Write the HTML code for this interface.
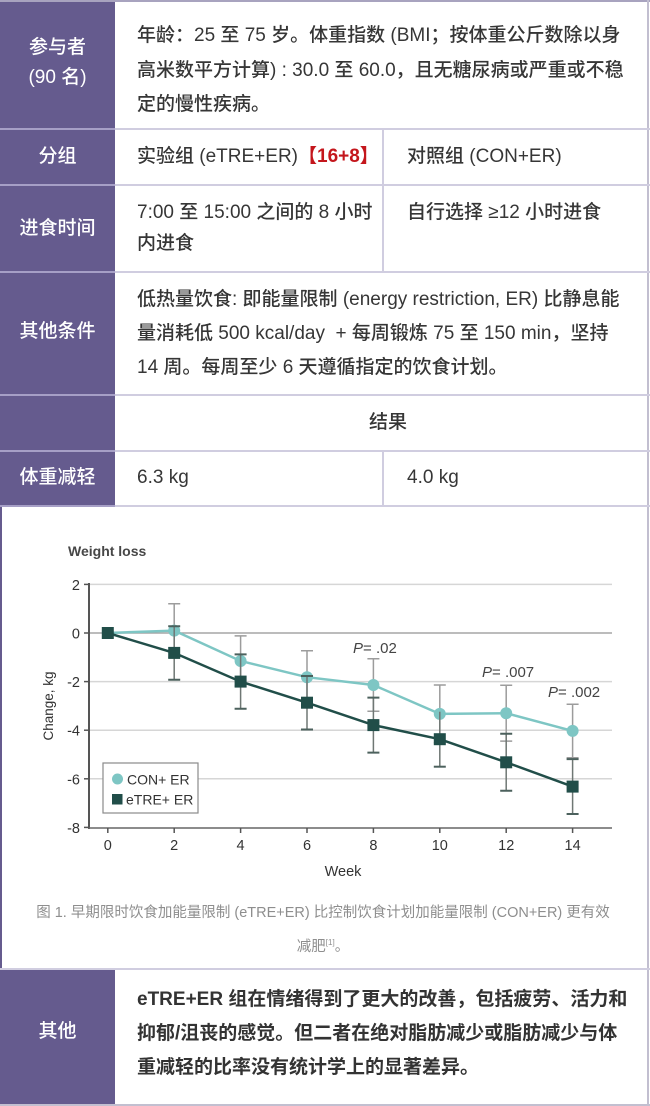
<!DOCTYPE html>
<html><head><meta charset="utf-8">
<style>
*{margin:0;padding:0;box-sizing:border-box}
html,body{width:650px;height:1106px;background:#fff;overflow:hidden}
body{position:relative;font-family:"Liberation Sans","Noto Sans CJK SC",sans-serif;color:#363636}
.p{position:absolute;background:#655b8e}
.hl{position:absolute;left:0;width:650px;height:2px;background:#d0cde0}
.hlp{position:absolute;left:0;width:115px;height:2px;background:#a69fc6}
.vl{position:absolute;width:2px;background:#d0cde0}
.t{position:absolute;font-size:19px;line-height:34px;white-space:nowrap;font-weight:500}
.lab{position:absolute;left:0;width:115px;text-align:center;color:#fff;font-size:19px;line-height:30px;font-weight:500;white-space:nowrap}
.red{color:#c4161c;font-weight:bold}
.cap{position:absolute;left:0;width:650px;text-align:center;font-size:14.5px;line-height:29px;color:#8e8e8e;white-space:nowrap}
</style></head><body>

<!-- purple columns -->
<div class="p" style="left:0;top:0;width:115px;height:507px"></div>
<div class="p" style="left:0;top:507px;width:2px;height:463px"></div>
<div class="p" style="left:0;top:970px;width:115px;height:136px"></div>

<!-- borders -->
<div style="position:absolute;left:0;top:0;width:650px;height:2px;background:#a8a3bf"></div>
<div style="position:absolute;left:647px;top:0;width:2px;height:1106px;background:#c2bfd0"></div>
<div style="position:absolute;left:0;top:1104px;width:650px;height:2px;background:#c2bfd0"></div>

<div class="hl" style="top:128px"></div>
<div class="hl" style="top:184px"></div>
<div class="hl" style="top:271px"></div>
<div class="hl" style="top:394px"></div>
<div class="hl" style="top:450px"></div>
<div class="hl" style="top:505px"></div>
<div class="hl" style="top:968px"></div>
<div class="hlp" style="top:128px"></div>
<div class="hlp" style="top:184px"></div>
<div class="hlp" style="top:271px"></div>
<div class="hlp" style="top:394px"></div>
<div class="hlp" style="top:450px"></div>
<div class="hlp" style="top:505px"></div>

<div class="vl" style="left:382px;top:129px;height:143px"></div>
<div class="vl" style="left:382px;top:451px;height:55px"></div>

<!-- row 1 -->
<div class="lab" style="top:33px">参与者<br>(90 名)</div>
<div class="t" style="left:137px;top:19px;line-height:34.5px">年龄：25 至 75 岁。体重指数 (BMI；按体重公斤数除以身<br>高米数平方计算) : 30.0 至 60.0，且无糖尿病或严重或不稳<br>定的慢性疾病。</div>

<!-- row 2 -->
<div class="lab" style="top:142px">分组</div>
<div class="t" style="left:137px;top:140px">实验组 (eTRE+ER)<span class="red">【16+8】</span></div>
<div class="t" style="left:407px;top:140px">对照组 (CON+ER)</div>

<!-- row 3 -->
<div class="lab" style="top:214px">进食时间</div>
<div class="t" style="left:137px;top:196.5px;line-height:31px">7:00 至 15:00 之间的 8 小时<br>内进食</div>
<div class="t" style="left:407px;top:196.5px;line-height:31px">自行选择 ≥12 小时进食</div>

<!-- row 4 -->
<div class="lab" style="top:317px">其他条件</div>
<div class="t" style="left:137px;top:283px">低热量饮食: 即能量限制 (energy restriction, ER) 比静息能<br>量消耗低 500 kcal/day&nbsp; + 每周锻炼 75 至 150 min，坚持<br>14 周。每周至少 6 天遵循指定的饮食计划。</div>

<!-- row 5 -->
<div class="t" style="left:369px;top:406px">结果</div>

<!-- row 6 -->
<div class="lab" style="top:463px">体重减轻</div>
<div class="t" style="left:137px;top:461px">6.3 kg</div>
<div class="t" style="left:407px;top:461px">4.0 kg</div>

<!-- caption -->
<div class="cap" style="top:898.5px;left:-2px">图 1. 早期限时饮食加能量限制 (eTRE+ER) 比控制饮食计划加能量限制 (CON+ER) 更有效<br>减肥<sup style="font-size:8px;vertical-align:6px">[1]</sup>。</div>

<!-- bottom row -->
<div class="lab" style="top:1017px">其他</div>
<div class="t" style="left:137px;top:983px;font-weight:bold;color:#333">eTRE+ER 组在情绪得到了更大的改善，包括疲劳、活力和<br>抑郁/沮丧的感觉。但二者在绝对脂肪减少或脂肪减少与体<br>重减轻的比率没有统计学上的显著差异。</div>

<!-- chart -->
<svg style="position:absolute;left:0;top:0" width="650" height="1106" viewBox="0 0 650 1106" font-family="Liberation Sans, sans-serif">
  <text x="68" y="556" font-size="14" font-weight="bold" fill="#474747">Weight loss</text>
  <g stroke="#d6d6d6" stroke-width="1.5">
    <line x1="89" y1="584.4" x2="612" y2="584.4"/>
    <line x1="89" y1="681.6" x2="612" y2="681.6"/>
    <line x1="89" y1="730.2" x2="612" y2="730.2"/>
    <line x1="89" y1="778.8" x2="612" y2="778.8"/>
  </g>
  <line x1="89" y1="633" x2="612" y2="633" stroke="#a6a6a6" stroke-width="1.5"/>
  <line x1="89" y1="583" x2="89" y2="829" stroke="#555" stroke-width="2"/>
  <line x1="88" y1="828" x2="612" y2="828" stroke="#666" stroke-width="1.5"/>
  <g stroke="#555" stroke-width="1.5">
    <line x1="84" y1="584.4" x2="89" y2="584.4"/>
    <line x1="84" y1="633" x2="89" y2="633"/>
    <line x1="84" y1="681.6" x2="89" y2="681.6"/>
    <line x1="84" y1="730.2" x2="89" y2="730.2"/>
    <line x1="84" y1="778.8" x2="89" y2="778.8"/>
    <line x1="84" y1="827.4" x2="89" y2="827.4"/>
    <line x1="107.8" y1="828" x2="107.8" y2="833"/>
    <line x1="174.2" y1="828" x2="174.2" y2="833"/>
    <line x1="240.6" y1="828" x2="240.6" y2="833"/>
    <line x1="307" y1="828" x2="307" y2="833"/>
    <line x1="373.4" y1="828" x2="373.4" y2="833"/>
    <line x1="439.8" y1="828" x2="439.8" y2="833"/>
    <line x1="506.2" y1="828" x2="506.2" y2="833"/>
    <line x1="572.6" y1="828" x2="572.6" y2="833"/>
  </g>
  <g font-size="14.5" fill="#333" text-anchor="end">
    <text x="80" y="590">2</text>
    <text x="80" y="638.5">0</text>
    <text x="80" y="687">-2</text>
    <text x="80" y="735.7">-4</text>
    <text x="80" y="784.3">-6</text>
    <text x="80" y="833">-8</text>
  </g>
  <g font-size="14.5" fill="#333" text-anchor="middle">
    <text x="107.8" y="850">0</text>
    <text x="174.2" y="850">2</text>
    <text x="240.6" y="850">4</text>
    <text x="307" y="850">6</text>
    <text x="373.4" y="850">8</text>
    <text x="439.8" y="850">10</text>
    <text x="506.2" y="850">12</text>
    <text x="572.6" y="850">14</text>
    <text x="343" y="876">Week</text>
  </g>
  <text transform="translate(53,706) rotate(-90)" font-size="13.5" fill="#333" text-anchor="middle">Change, kg</text>

  <!-- CON error bars -->
  <g stroke="#9c9c9c" stroke-width="1.5">
    <path d="M174.2 603.8V657.3M168.2 603.8H180.2M168.2 657.3H180.2"/>
    <path d="M240.6 635.9V686M234.6 635.9H246.6M234.6 686H246.6"/>
    <path d="M307 650.7V703.7M301 650.7H313M301 703.7H313"/>
    <path d="M373.4 658.8V711.2M367.4 658.8H379.4M367.4 711.2H379.4"/>
    <path d="M439.8 685V742.8M433.8 685H445.8M433.8 742.8H445.8"/>
    <path d="M506.2 685.2V741.1M500.2 685.2H512.2M500.2 741.1H512.2"/>
    <path d="M572.6 704.2V757.7M566.6 704.2H578.6M566.6 757.7H578.6"/>
  </g>
  <polyline fill="none" stroke="#7ec6c4" stroke-width="2.5" points="107.8,633 174.2,630.6 240.6,661 307,677.2 373.4,685 439.8,713.9 506.2,713.2 572.6,730.9"/>
  <g fill="#7ec6c4">
    <circle cx="107.8" cy="633" r="6"/>
    <circle cx="174.2" cy="630.6" r="6"/>
    <circle cx="240.6" cy="661" r="6"/>
    <circle cx="307" cy="677.2" r="6"/>
    <circle cx="373.4" cy="685" r="6"/>
    <circle cx="439.8" cy="713.9" r="6"/>
    <circle cx="506.2" cy="713.2" r="6"/>
    <circle cx="572.6" cy="730.9" r="6"/>
  </g>

  <!-- eTRE error bars -->
  <g stroke="#6f7774" stroke-width="1.5">
    <path d="M174.2 626.2V679.7"/>
    <path d="M240.6 654.4V708.8"/>
    <path d="M307 676V729.5"/>
    <path d="M373.4 697.6V752.6"/>
    <path d="M439.8 711.7V766.7"/>
    <path d="M506.2 733.8V790.7"/>
    <path d="M572.6 759.1V814"/>
  </g>
  <g stroke="#4c615d" stroke-width="2">
    <path d="M168.2 626.2H180.2M168.2 679.7H180.2"/>
    <path d="M234.6 654.4H246.6M234.6 708.8H246.6"/>
    <path d="M301 676H313M301 729.5H313"/>
    <path d="M367.4 697.6H379.4M367.4 752.6H379.4"/>
    <path d="M433.8 766.7H445.8"/>
    <path d="M500.2 733.8H512.2M500.2 790.7H512.2"/>
    <path d="M566.6 759.1H578.6M566.6 814H578.6"/>
  </g>
  <polyline fill="none" stroke="#214e49" stroke-width="2.5" points="107.8,633 174.2,652.9 240.6,681.6 307,702.7 373.4,725.1 439.8,739.2 506.2,762.3 572.6,786.6"/>
  <g fill="#214e49">
    <rect x="101.8" y="627" width="12" height="12"/>
    <rect x="168.2" y="646.9" width="12" height="12"/>
    <rect x="234.6" y="675.6" width="12" height="12"/>
    <rect x="301" y="696.7" width="12" height="12"/>
    <rect x="367.4" y="719.1" width="12" height="12"/>
    <rect x="433.8" y="733.2" width="12" height="12"/>
    <rect x="500.2" y="756.3" width="12" height="12"/>
    <rect x="566.6" y="780.6" width="12" height="12"/>
  </g>

  <!-- P values -->
  <g font-size="15" fill="#444">
    <text x="353" y="653"><tspan font-style="italic">P</tspan>= .02</text>
    <text x="482" y="677"><tspan font-style="italic">P</tspan>= .007</text>
    <text x="548" y="697"><tspan font-style="italic">P</tspan>= .002</text>
  </g>

  <!-- legend -->
  <rect x="103" y="763" width="95" height="50" fill="#fff" stroke="#8a8a8a" stroke-width="1.2"/>
  <circle cx="117.5" cy="779" r="5.5" fill="#7ec6c4"/>
  <rect x="112" y="794" width="10.5" height="10.5" fill="#214e49"/>
  <g font-size="14" fill="#333">
    <text x="127" y="784.5">CON+ ER</text>
    <text x="126" y="804.5">eTRE+ ER</text>
  </g>
</svg>
</body></html>
